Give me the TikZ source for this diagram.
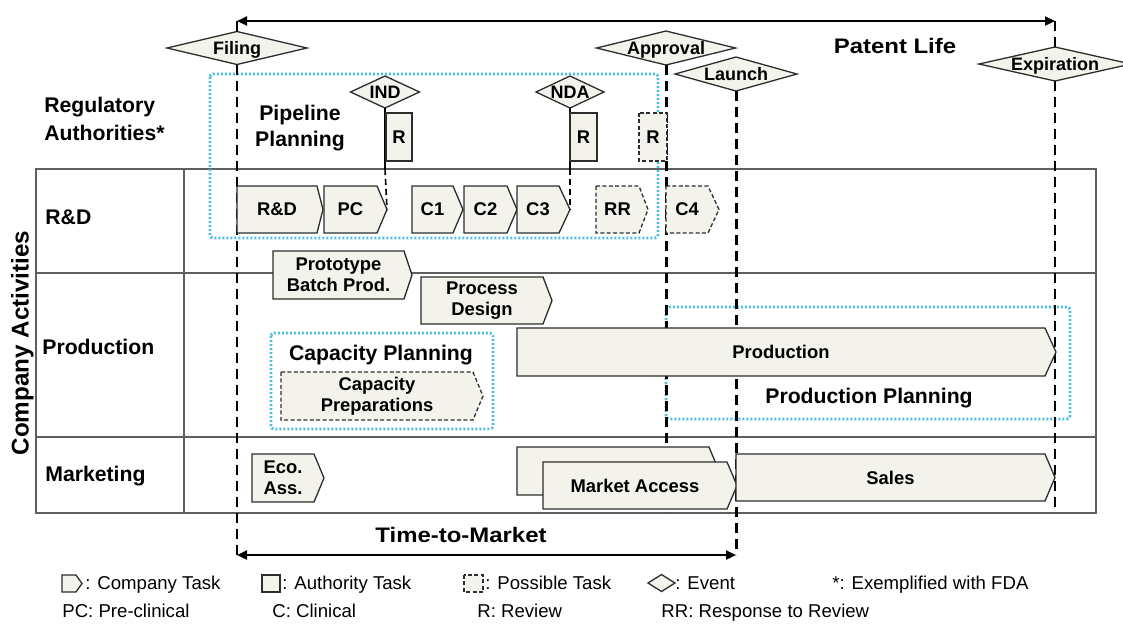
\documentclass[tikz,border=0pt]{standalone}
\usepackage{fontspec}
\setmainfont{Liberation Sans}
\newfontfamily\widefont[FakeStretch=1.14]{Liberation Sans}
\usetikzlibrary{arrows.meta}
\definecolor{boxf}{RGB}{243,242,235}
\definecolor{boxc}{RGB}{45,45,45}
\definecolor{tabc}{RGB}{95,95,95}
\definecolor{cyanc}{RGB}{78,190,222}
\tikzset{
  box/.style={draw=boxc, fill=boxf, line width=0.65pt},
  posb/.style={dash pattern=on 2pt off 1.2pt},
  lbl/.style={inner sep=0pt, align=center, font=\fontsize{9.2}{10.4}\selectfont\bfseries},
  evl/.style={inner sep=0pt, font=\fontsize{9}{10}\selectfont\bfseries, text height=1.5ex, text depth=.25ex},
  head/.style={inner sep=0pt, align=center, font=\fontsize{10.6}{13}\selectfont\bfseries},
  widehead/.style={inner sep=0pt, font=\widefont\fontsize{10.5}{12}\selectfont\bfseries, text height=1.5ex, text depth=.25ex},
  rowl/.style={inner sep=0pt, anchor=west, align=left, font=\fontsize{10.6}{14}\selectfont\bfseries},
  leg/.style={inner sep=0pt, anchor=west, font=\fontsize{9.3}{11}\selectfont, text height=1.5ex, text depth=.25ex},
  tab/.style={draw=tabc, line width=0.7pt},
  plan/.style={draw=cyanc, line width=1.4pt, dash pattern=on 1pt off 1pt, rounded corners=1.5pt},
  vthin/.style={line width=1pt, dash pattern=on 5pt off 3pt},
  vthick/.style={line width=1.5pt, dash pattern=on 5pt off 3pt},
  span/.style={line width=1.1pt, {Triangle[length=5pt,width=4.5pt]}-{Triangle[length=5pt,width=4.5pt]}},
  tick/.style={line width=0.8pt},
}
% chevron task: [style]{name}{x1}{y1}{x2}{xtip}{y2}{text}
\newcommand\chev[8][]{%
  \draw[box,#1] (#3,#4) -- (#5,#4) -- (#6,{(#4+#7)/2}) -- (#5,#7) -- (#3,#7) -- cycle;
  \node[lbl] (#2) at ({(#3+#5)/2},{(#4+#7)/2}) {#8};
  \coordinate (#2-tip) at (#6,{(#4+#7)/2});
}
% rectangle task: [style]{name}{x1}{y1}{x2}{y2}{text}
\newcommand\rbox[7][]{%
  \draw[box,#1] (#3,#4) rectangle (#5,#6);
  \node[lbl] (#2) at ({(#3+#5)/2},{(#4+#6)/2}) {#7};
}
% event diamond: {name}{cx}{cy}{hw}{hh}{text}
\newcommand\evt[6]{%
  \draw[box] (#2-#4,#3) -- (#2,#3-#5) -- (#2+#4,#3) -- (#2,#3+#5) -- cycle;
  \node[evl] (#1) at (#2,#3) {#6};
  \coordinate (#1-t) at (#2,#3-#5);
  \coordinate (#1-b) at (#2,#3+#5);
}
\begin{document}
\begin{tikzpicture}[x=0.5pt,y=-0.5pt]
\clip (0,0) rectangle (1123,623);
% table
\draw[tab] (36,169) rectangle (1096,513);
\draw[tab] (184,169) -- (184,513);
\draw[tab] (36,273) -- (1096,273);
\draw[tab] (36,437) -- (1096,437);
% planning frames
\draw[plan] (210,74) rectangle (658,238);
\draw[plan] (271,333) rectangle (493,429);
\draw[plan] (666,307) rectangle (1070,419);
% events
\evt{filing}{237}{48}{70}{16.5}{Filing}
\evt{approval}{666}{48}{69.5}{17}{Approval}
\evt{launch}{736}{74}{61}{17}{Launch}
\evt{expir}{1055}{64}{76}{17}{Expiration}
\evt{ind}{385}{92}{34.5}{16}{IND}
\evt{nda}{570}{92}{34}{16}{NDA}
% anchor coordinates
\coordinate (pl-l) at (237,21);
\coordinate (pl-r) at (1055,21);
\coordinate (tm-l) at (237,555);
\coordinate (tm-r) at (736,555);
\coordinate (appr-end) at (666,513);
\coordinate (exp-end) at (1055,511);
\coordinate (ind-mid) at (385,169);
\coordinate (nda-mid) at (570,169);
% time lines
\draw[tick] (pl-l) -- (filing-t);
\draw[vthin] (pl-r) -- (expir-t);
\draw[span] (pl-l) -- (pl-r);
\draw[vthin] (filing-b) -- (tm-l);
\draw[vthick] (approval-b) -- (appr-end);
\draw[vthick] (launch-b) -- (tm-r);
\draw[vthin] (expir-b) -- (exp-end);
\draw[span] (tm-l) -- (tm-r);
\draw[tick] (ind-b) -- (ind-mid);
\draw[tick] (nda-b) -- (nda-mid);
% tasks
\chev{rd}{237}{186}{317}{323}{233}{R\&D}
\chev{pc}{324}{186}{377}{387}{233}{PC}
\chev{c1}{412}{186}{453}{463}{233}{C1}
\chev{c2}{464}{186}{507}{517}{233}{C2}
\chev{c3}{517}{186}{559}{570}{233}{C3}
\chev[posb]{rr}{596}{186}{639}{648}{233}{RR}
\chev[posb]{c4}{666}{186}{708}{719}{233}{C4}
\rbox{r1}{386}{113}{412}{161}{R}
\rbox{r2}{570}{113}{597}{161}{R}
\rbox[posb]{r3}{639}{113}{667}{161}{R}
\chev{proto}{273}{251}{404}{412}{299}{Prototype\\Batch Prod.}
\chev{procd}{421}{277}{543}{552}{324}{Process\\Design}
\chev[posb]{cprep}{281}{372}{473}{483}{420}{Capacity\\Preparations}
\chev{prod}{517}{328}{1045}{1056}{376}{Production}
\chev{eco}{252}{454}{314}{324}{502}{Eco.\\Ass.}
\chev{mab}{517}{447}{709}{719}{495}{}
\chev{ma}{543}{462}{727}{737}{509}{Market Access}
\chev{sales}{736}{454}{1045}{1055}{501}{Sales}
\draw[tick, dash pattern=on 3pt off 2pt] (ind-mid) -- (pc-tip);
\draw[tick, dash pattern=on 3pt off 2pt] (nda-mid) -- (c3-tip);
% headings
\node[widehead] (patent) at (895,47) {Patent Life};
\node[widehead] (ttm) at (461,536) {Time-to-Market};
\node[head] (pipe) at (300,128) {Pipeline\\Planning};
\node[head] (capp) at (381,355) {Capacity Planning};
\node[head] (prodp) at (869,398) {Production Planning};
\node[rowl] (reg) at (44,119) {Regulatory\\Authorities*};
\node[rowl] (rdl) at (45,217) {R\&D};
\node[rowl] (prl) at (42,347) {Production};
\node[rowl] (mkl) at (45,476) {Marketing};
\node[rotate=90, inner sep=0pt, font=\fontsize{12.1}{14}\selectfont\bfseries, text height=1.5ex, text depth=.25ex] (ca) at (22,343) {Company Activities};
% legend
\chev{lgc}{62}{575}{76}{82}{592}{}
\rbox{lga}{262}{575}{280}{592}{}
\rbox[posb]{lgp}{464}{575}{483}{592}{}
\evt{lge}{661.5}{583}{13.5}{8.5}{}
\node[leg] (lt1) at (85,583) {: Company Task};
\node[leg] (lt2) at (282,583) {: Authority Task};
\node[leg] (lt3) at (485,583) {: Possible Task};
\node[leg] (lt4) at (675,583) {: Event};
\node[leg] (lt5) at (832,583) {*: Exemplified with FDA};
\node[leg] (lt6) at (62,611) {PC: Pre-clinical};
\node[leg] (lt7) at (272,611) {C: Clinical};
\node[leg] (lt8) at (477,611) {R: Review};
\node[leg] (lt9) at (661,611) {RR: Response to Review};
\end{tikzpicture}
\end{document}
